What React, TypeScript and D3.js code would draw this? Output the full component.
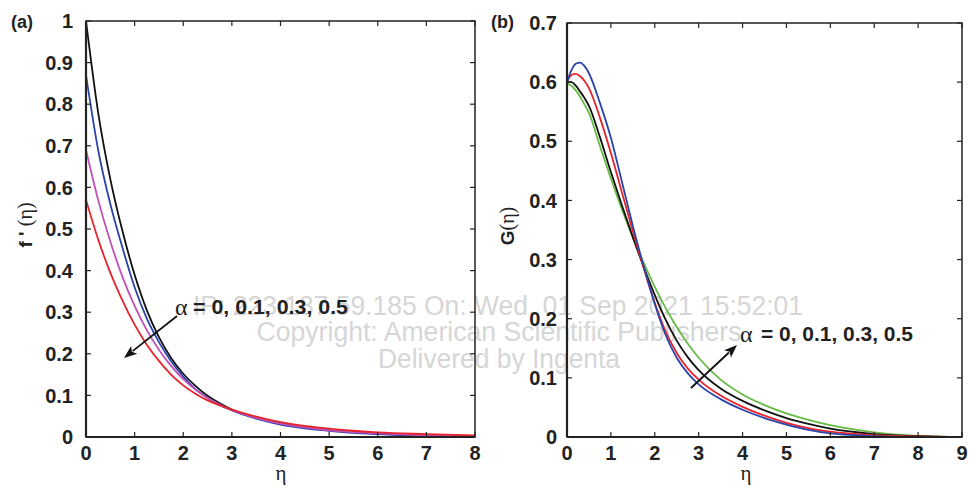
import React from "react";
import * as d3 from "d3";

// Panel (a): f'(eta)
const etaA = [0, 0.25, 0.5, 0.75, 1, 1.25, 1.5, 1.75, 2, 2.25, 2.5, 2.75, 3, 3.5, 4, 4.5, 5, 5.5, 6, 7, 8];
const fA_alpha0 = [1.0, 0.78, 0.62, 0.495, 0.39, 0.305, 0.24, 0.19, 0.152, 0.123, 0.099, 0.081, 0.066, 0.046, 0.032, 0.023, 0.016, 0.012, 0.008, 0.004, 0.002];
const fA_alpha01 = [0.87, 0.69, 0.56, 0.455, 0.36, 0.285, 0.228, 0.182, 0.145, 0.115, 0.094, 0.077, 0.064, 0.044, 0.03, 0.021, 0.015, 0.01, 0.007, 0.003, 0.001];
const fA_alpha03 = [0.69, 0.57, 0.47, 0.385, 0.315, 0.257, 0.21, 0.171, 0.139, 0.114, 0.094, 0.078, 0.065, 0.046, 0.032, 0.023, 0.016, 0.012, 0.009, 0.004, 0.002];
const fA_alpha05 = [0.57, 0.475, 0.395, 0.328, 0.27, 0.222, 0.183, 0.15, 0.124, 0.104, 0.088, 0.076, 0.066, 0.049, 0.036, 0.027, 0.02, 0.015, 0.011, 0.007, 0.004];

// Panel (b): G(eta)
const etaB = [0, 0.1, 0.2, 0.3, 0.4, 0.5, 0.75, 1, 1.25, 1.5, 1.75, 2, 2.25, 2.5, 2.75, 3, 3.5, 4, 4.5, 5, 5.5, 6, 7, 8, 9];
const gB_black = [0.6, 0.6, 0.594, 0.584, 0.573, 0.56, 0.507, 0.448, 0.392, 0.338, 0.287, 0.24, 0.198, 0.163, 0.135, 0.113, 0.082, 0.061, 0.045, 0.032, 0.022, 0.014, 0.005, 0.0015, 0.0];
const gB_red = [0.6, 0.612, 0.614, 0.61, 0.602, 0.59, 0.54, 0.48, 0.414, 0.348, 0.285, 0.227, 0.178, 0.142, 0.116, 0.097, 0.07, 0.051, 0.036, 0.024, 0.015, 0.009, 0.003, 0.001, 0.0];
const gB_blue = [0.6, 0.62, 0.631, 0.633, 0.627, 0.615, 0.565, 0.506, 0.432, 0.357, 0.288, 0.225, 0.172, 0.134, 0.108, 0.089, 0.064, 0.046, 0.032, 0.021, 0.012, 0.006, 0.0015, 0.0003, 0.0];
const gB_green = [0.597, 0.594, 0.586, 0.575, 0.562, 0.548, 0.492, 0.437, 0.385, 0.337, 0.294, 0.254, 0.218, 0.186, 0.158, 0.134, 0.097, 0.072, 0.054, 0.04, 0.029, 0.02, 0.008, 0.002, 0.0];

const ticksXA = [0, 1, 2, 3, 4, 5, 6, 7, 8];
const ticksYA = [0, 0.1, 0.2, 0.3, 0.4, 0.5, 0.6, 0.7, 0.8, 0.9, 1];
const ticksXB = [0, 1, 2, 3, 4, 5, 6, 7, 8, 9];
const ticksYB = [0, 0.1, 0.2, 0.3, 0.4, 0.5, 0.6, 0.7];

const annotation = "= 0, 0.1, 0.3, 0.5";
const watermark = [
  "IP: 223.187.59.185 On: Wed, 01 Sep 2021 15:52:01",
  "Copyright: American Scientific Publishers",
  "Delivered by Ingenta",
];

const SANS = "'Liberation Sans', Arial, Helvetica, sans-serif";
const SERIF = "'Liberation Serif', 'DejaVu Serif', serif";

type Series = { values: number[]; color: string };

function Panel(props: {
  x0: number; x1: number; y0: number; y1: number;
  xDomain: [number, number]; yDomain: [number, number];
  xTicks: number[]; yTicks: number[];
  eta: number[]; series: Series[]; labelGap: number;
}) {
  const { x0, x1, y0, y1, xDomain, yDomain, xTicks, yTicks, eta, series, labelGap } = props;
  const x = d3.scaleLinear().domain(xDomain).range([x0, x1]);
  const y = d3.scaleLinear().domain(yDomain).range([y1, y0]);
  const line = d3
    .line<number>()
    .x((_, i) => x(eta[i]))
    .y((d) => y(d))
    .curve(d3.curveMonotoneX);
  const tl = 5;
  const fmt = (v: number) => (v === 0 || v === 1 ? String(v) : v.toFixed(1));
  return (
    <g>
      <defs>
        <clipPath id={`clip-${x0}`}>
          <rect x={x0} y={y0} width={x1 - x0} height={y1 - y0 + 1} />
        </clipPath>
      </defs>
      <g clipPath={`url(#clip-${x0})`}>
        {series.map((s, i) => (
          <path key={i} d={line(s.values) || ""} fill="none" stroke={s.color} strokeWidth={1.8} />
        ))}
      </g>
      {xTicks.map((t) => (
        <g key={"xt" + t}>
          <line x1={x(t)} x2={x(t)} y1={y1} y2={y1 - tl} stroke="#222" strokeWidth={1.2} />
          <line x1={x(t)} x2={x(t)} y1={y0} y2={y0 + tl} stroke="#222" strokeWidth={1.2} />
          <text x={x(t)} y={y1 + 23} textAnchor="middle" fontFamily={SANS} fontWeight="bold" fontSize={20} fill="#222">
            {t}
          </text>
        </g>
      ))}
      {yTicks.map((t) => (
        <g key={"yt" + t}>
          <line x1={x0} x2={x0 + tl} y1={y(t)} y2={y(t)} stroke="#222" strokeWidth={1.2} />
          <line x1={x1} x2={x1 - tl} y1={y(t)} y2={y(t)} stroke="#222" strokeWidth={1.2} />
          <text x={x0 - labelGap} y={y(t)} dy="0.36em" textAnchor="end" fontFamily={SANS} fontWeight="bold" fontSize={20} fill="#222">
            {fmt(t)}
          </text>
        </g>
      ))}
      <rect x={x0} y={y0} width={x1 - x0} height={y1 - y0} fill="none" stroke="#222" strokeWidth={1.5} />
      <line x1={x0} x2={x1} y1={y1} y2={y1} stroke="#222" strokeWidth={2.2} />
      <line x1={x0} x2={x0} y1={y0} y2={y1} stroke="#222" strokeWidth={2.2} />
    </g>
  );
}

function Arrow(props: { x1: number; y1: number; x2: number; y2: number }) {
  const { x1, y1, x2, y2 } = props;
  const ang = Math.atan2(y2 - y1, x2 - x1);
  const L = 13, W = 5;
  const bx = x2 - L * Math.cos(ang), by = y2 - L * Math.sin(ang);
  const px = -Math.sin(ang) * W, py = Math.cos(ang) * W;
  return (
    <g>
      <line x1={x1} y1={y1} x2={bx + 2 * Math.cos(ang)} y2={by + 2 * Math.sin(ang)} stroke="#111" strokeWidth={1.8} />
      <path d={`M${x2},${y2} L${bx + px},${by + py} L${bx + 3 * Math.cos(ang)},${by + 3 * Math.sin(ang)} L${bx - px},${by - py} Z`} fill="#111" />
    </g>
  );
}

export default function App() {
  return (
    <svg width={969} height={488} style={{ position: "absolute", left: 0, top: 0, background: "#fff" }}>
      <rect width={969} height={488} fill="#fff" />
      {/* watermark */}
      <g fontFamily={SANS} fill="#d6d6d6" fontSize={27} textAnchor="middle">
        <text x={498} y={315} textLength={610} lengthAdjust="spacingAndGlyphs">{watermark[0]}</text>
        <text x={499} y={341} textLength={485} lengthAdjust="spacingAndGlyphs">{watermark[1]}</text>
        <text x={499} y={368} textLength={242} lengthAdjust="spacingAndGlyphs">{watermark[2]}</text>
      </g>

      <Panel
        x0={86} x1={475} y0={21} y1={437}
        xDomain={[0, 8]} yDomain={[0, 1]}
        xTicks={ticksXA} yTicks={ticksYA}
        eta={etaA}
        labelGap={13}
        series={[
          { values: fA_alpha0, color: "#111111" },
          { values: fA_alpha01, color: "#2a44a8" },
          { values: fA_alpha03, color: "#c050b8" },
          { values: fA_alpha05, color: "#e8232b" },
        ]}
      />
      <Panel
        x0={567} x1={962} y0={23} y1={437}
        xDomain={[0, 9]} yDomain={[0, 0.7]}
        xTicks={ticksXB} yTicks={ticksYB}
        eta={etaB}
        labelGap={10}
        series={[
          { values: gB_green, color: "#66bb44" },
          { values: gB_black, color: "#111111" },
          { values: gB_red, color: "#e8232b" },
          { values: gB_blue, color: "#2a44a8" },
        ]}
      />

      {/* panel labels */}
      <text x={11} y={28} fontFamily={SANS} fontWeight="bold" fontSize={18} fill="#222">(a)</text>
      <text x={491} y={28} fontFamily={SANS} fontWeight="bold" fontSize={18} fill="#222">(b)</text>

      {/* axis titles */}
      <text x={281} y={480} textAnchor="middle" fontFamily={SERIF} fontSize={21} fill="#222">η</text>
      <text x={746} y={480} textAnchor="middle" fontFamily={SERIF} fontSize={21} fill="#222">η</text>
      <text transform="translate(32,225) rotate(-90)" textAnchor="middle" fill="#222">
        <tspan fontFamily={SANS} fontWeight="bold" fontSize={19}>f ' </tspan>
        <tspan fontFamily={SERIF} fontSize={20}>(η)</tspan>
      </text>
      <text transform="translate(514,226) rotate(-90)" textAnchor="middle" fill="#222">
        <tspan fontFamily={SANS} fontWeight="bold" fontSize={19}>G</tspan>
        <tspan fontFamily={SERIF} fontSize={20}>(η)</tspan>
      </text>

      {/* annotations */}
      <text x={175} y={315} fontFamily={SERIF} fontSize={24} fill="#222">α</text>
      <text x={193} y={314} fontFamily={SANS} fontWeight="bold" fontSize={20} fill="#222" textLength={155} lengthAdjust="spacingAndGlyphs">{annotation}</text>
      <Arrow x1={177} y1={316} x2={124} y2={358} />

      <text x={740} y={342} fontFamily={SERIF} fontSize={24} fill="#222">α</text>
      <text x={761} y={341} fontFamily={SANS} fontWeight="bold" fontSize={20} fill="#222" textLength={152} lengthAdjust="spacingAndGlyphs">{annotation}</text>
      <Arrow x1={691} y1={388} x2={737} y2={345} />
    </svg>
  );
}
